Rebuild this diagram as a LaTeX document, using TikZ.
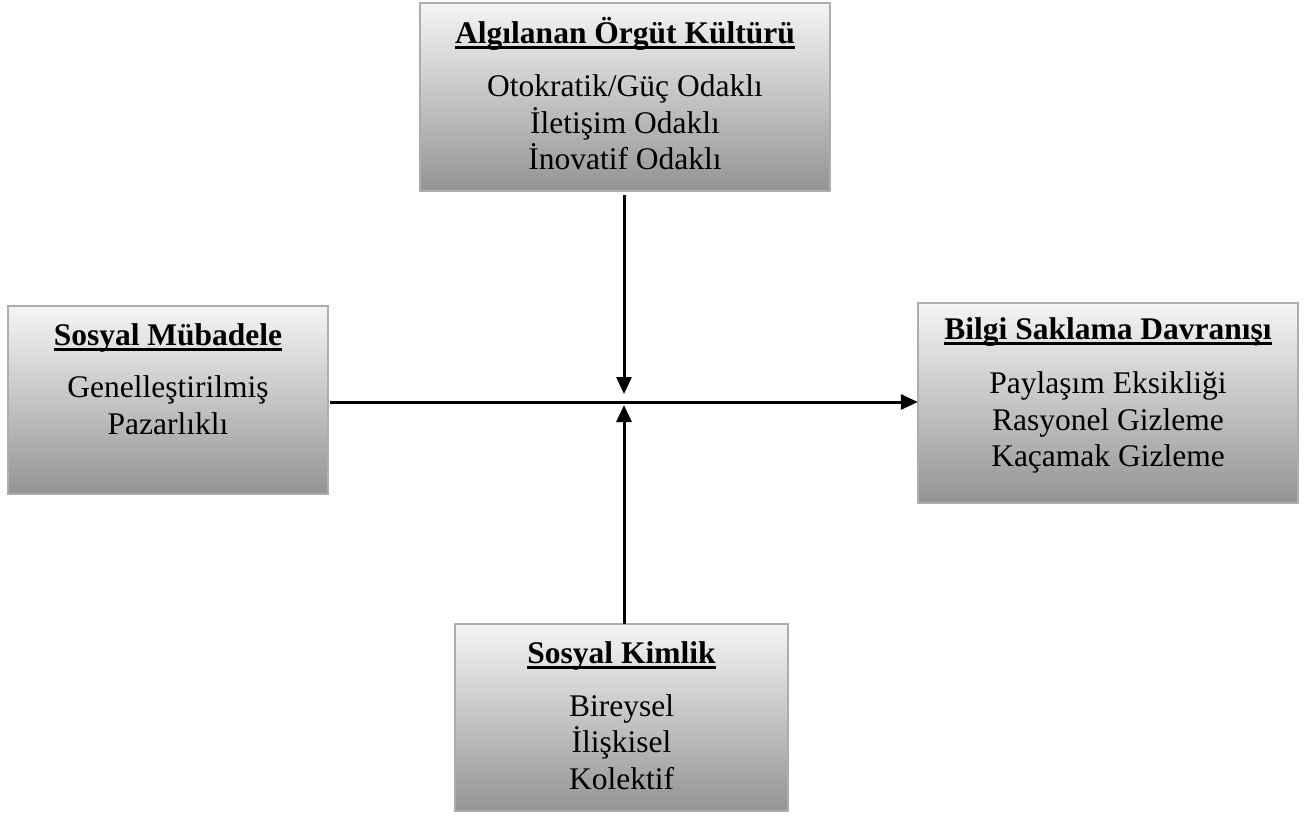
\documentclass[tikz,border=0pt]{standalone}
\usepackage{fontspec}
\setmainfont{Liberation Serif}
\usetikzlibrary{arrows.meta}
\newcommand\ulin[1]{\setbox0\hbox{#1}\rlap{\rule[-6pt]{\wd0}{3.2pt}}\box0}
\newcommand\fstrut{\rule{0pt}{30pt}}
\tikzset{
  gbox/.style={draw=black!32, line width=1.3pt, top color=black!4, bottom color=black!42, inner sep=0pt},
  ttl/.style={anchor=base, font=\fontsize{31.5}{36.5}\selectfont\bfseries, inner sep=0pt},
  body/.style={anchor=north, align=center, font=\fontsize{31.5}{36.5}\selectfont, inner sep=0pt},
  conn/.style={line width=3pt, -{Triangle[length=17pt,width=15pt]}}
}
\begin{document}
\begin{tikzpicture}[x=1pt,y=-1pt]
\useasboundingbox (0,0) rectangle (1312,815);
% boxes
\path[gbox] (420,3) rectangle (830,191);
\node[minimum width=410pt, minimum height=188pt] (top) at (625,97) {};
\path[gbox] (8,306) rectangle (328,494);
\node[minimum width=320pt, minimum height=188pt] (left) at (168,400) {};
\path[gbox] (918,303) rectangle (1298,503);
\node[minimum width=380pt, minimum height=200pt] (right) at (1108,403) {};
\path[gbox] (455,624) rectangle (788,811);
\node[minimum width=333pt, minimum height=187pt] (bot) at (621.5,717.5) {};
% texts
\node[ttl] (t1) at (625,43.3) {\ulin{Algılanan Örgüt Kültürü}};
\node[body] (b1) at (625,66.7) {\fstrut Otokratik/Güç Odaklı\\İletişim Odaklı\\İnovatif Odaklı};
\node[ttl] (t2) at (168,345) {\ulin{Sosyal Mübadele}};
\node[body] (b2) at (168,367.3) {\fstrut Genelleştirilmiş\\Pazarlıklı};
\node[ttl] (t3) at (1108,339.3) {\ulin{Bilgi Saklama Davranışı}};
\node[body] (b3) at (1108,363.3) {\fstrut Paylaşım Eksikliği\\Rasyonel Gizleme\\Kaçamak Gizleme};
\node[ttl] (t4) at (621.5,663.3) {\ulin{Sosyal Kimlik}};
\node[body] (b4) at (621.5,686) {\fstrut Bireysel\\İlişkisel\\Kolektif};
% connectors
\coordinate (mid) at (624,402);
\coordinate (midt) at (624,394);
\coordinate (midb) at (624,405);
\draw[conn] (left.east |- mid) ++(2,0) coordinate (hs) -- (right.west |- mid);
\draw[conn] (top.south -| mid) ++(0,4) -- (midt);
\draw[conn] (bot.north -| mid) -- (midb);
\end{tikzpicture}
\end{document}
